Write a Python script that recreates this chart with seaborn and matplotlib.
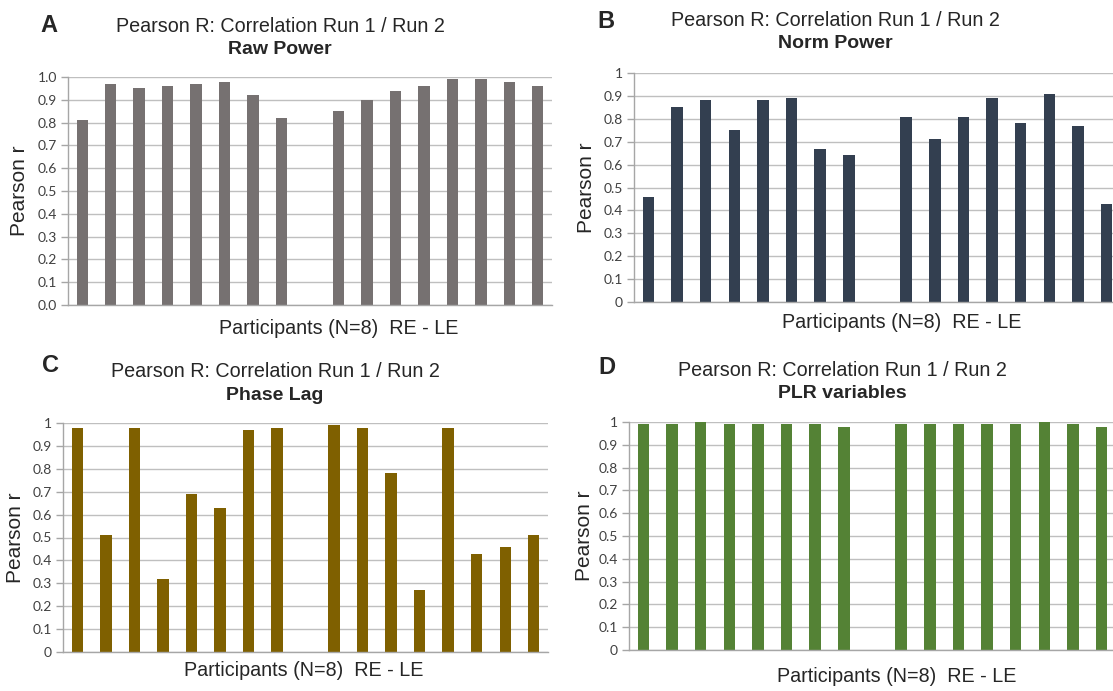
import matplotlib
matplotlib.use("Agg")
import matplotlib.pyplot as plt
import seaborn as sns
import pandas as pd
import numpy as np

sns.set_style("white")
plt.rcParams['font.family'] = ['Liberation Sans', 'DejaVu Sans']

# categories: 8 right-eye participants, a gap, 8 left-eye participants
re_labels = [f"RE{i}" for i in range(1, 9)]
le_labels = [f"LE{i}" for i in range(1, 9)]
order = re_labels + ["gap"] + le_labels

raw_power = [0.81, 0.97, 0.95, 0.96, 0.97, 0.98, 0.92, 0.82,
             0.85, 0.90, 0.94, 0.96, 0.99, 0.99, 0.98, 0.96]
norm_power = [0.46, 0.85, 0.88, 0.75, 0.88, 0.89, 0.67, 0.64,
              0.81, 0.71, 0.81, 0.89, 0.78, 0.91, 0.77, 0.43]
phase_lag = [0.98, 0.51, 0.98, 0.32, 0.69, 0.63, 0.97, 0.98,
             0.99, 0.98, 0.78, 0.27, 0.98, 0.43, 0.46, 0.51]
plr_vars = [0.99, 0.99, 1.00, 0.99, 0.99, 0.99, 0.99, 0.98,
            0.99, 0.99, 0.99, 0.99, 0.99, 1.00, 0.99, 0.98]

yticks = [0.0, 0.1, 0.2, 0.3, 0.4, 0.5, 0.6, 0.7, 0.8, 0.9, 1.0]
yticklabels_a = ["0.0", "0.1", "0.2", "0.3", "0.4", "0.5", "0.6", "0.7", "0.8", "0.9", "1.0"]
yticklabels_b = ["0", "0.1", "0.2", "0.3", "0.4", "0.5", "0.6", "0.7", "0.8", "0.9", "1"]

W, H = 1113, 691
fig = plt.figure(figsize=(W / 100, H / 100), dpi=100)

panels = [
    dict(letter="A", sub="Raw Power", vals=raw_power, color="#767171", tl=yticklabels_a,
         box=(68, 552, 77, 305), lp=(40, 25), tx=280, ty1=27, ty2=49, xl=(339, 328), yl=20),
    dict(letter="B", sub="Norm Power", vals=norm_power, color="#333F50", tl=yticklabels_b,
         box=(634, 1121, 73, 302), lp=(597, 22), tx=835, ty1=20, ty2=43, xl=(902, 323), yl=587),
    dict(letter="C", sub="Phase Lag", vals=phase_lag, color="#7F6000", tl=yticklabels_b,
         box=(63, 548, 423, 652), lp=(42, 365), tx=275, ty1=372, ty2=395, xl=(304, 670), yl=16),
    dict(letter="D", sub="PLR variables", vals=plr_vars, color="#548235", tl=yticklabels_b,
         box=(629, 1116, 422, 650), lp=(598, 368), tx=842, ty1=370, ty2=393, xl=(897, 677), yl=584),
]

for p in panels:
    l, r, t, b = p["box"]
    ax = fig.add_axes([l / W, 1 - b / H, (r - l) / W, (b - t) / H])
    df = pd.DataFrame({"participant": re_labels + le_labels, "r": p["vals"]})
    sns.barplot(data=df, x="participant", y="r", order=order, color=p["color"],
                saturation=1, width=0.4, linewidth=0, ax=ax, errorbar=None)
    ax.set_ylim(0, 1)
    ax.set_xlim(-0.5, len(order) - 0.5)
    ax.set_yticks(yticks)
    ax.set_yticklabels(p["tl"], fontsize=10, family=["Lato", "DejaVu Sans"], color="#404040")
    ax.set_xticks([])
    ax.set_xlabel("")
    ax.set_ylabel("")
    ax.yaxis.grid(True, color="#BFBFBF", linewidth=1)
    ax.set_axisbelow(True)
    for s in ["top", "right"]:
        ax.spines[s].set_visible(False)
    for s in ["left", "bottom"]:
        ax.spines[s].set_color("#A6A6A6")
        ax.spines[s].set_linewidth(1)
    ax.tick_params(axis="y", left=True, length=5, color="#A6A6A6", width=1, pad=3)

    fig.text(p["lp"][0] / W, 1 - p["lp"][1] / H, p["letter"], fontsize=17, fontweight="bold",
             ha="left", va="center")
    fig.text(p["tx"] / W, 1 - p["ty1"] / H, "Pearson R: Correlation Run 1 / Run 2",
             fontsize=14.2, ha="center", va="center")
    fig.text(p["tx"] / W, 1 - p["ty2"] / H, p["sub"], fontsize=14, fontweight="bold",
             ha="center", va="center")
    fig.text(p["xl"][0] / W, 1 - p["xl"][1] / H, "Participants (N=8)  RE - LE",
             fontsize=14.2, ha="center", va="center")
    cy = (t + b) / 2
    fig.text(p["yl"] / W, 1 - cy / H, "Pearson r", fontsize=15, rotation=90,
             ha="center", va="center")

fig.savefig("out.png", dpi=100)
